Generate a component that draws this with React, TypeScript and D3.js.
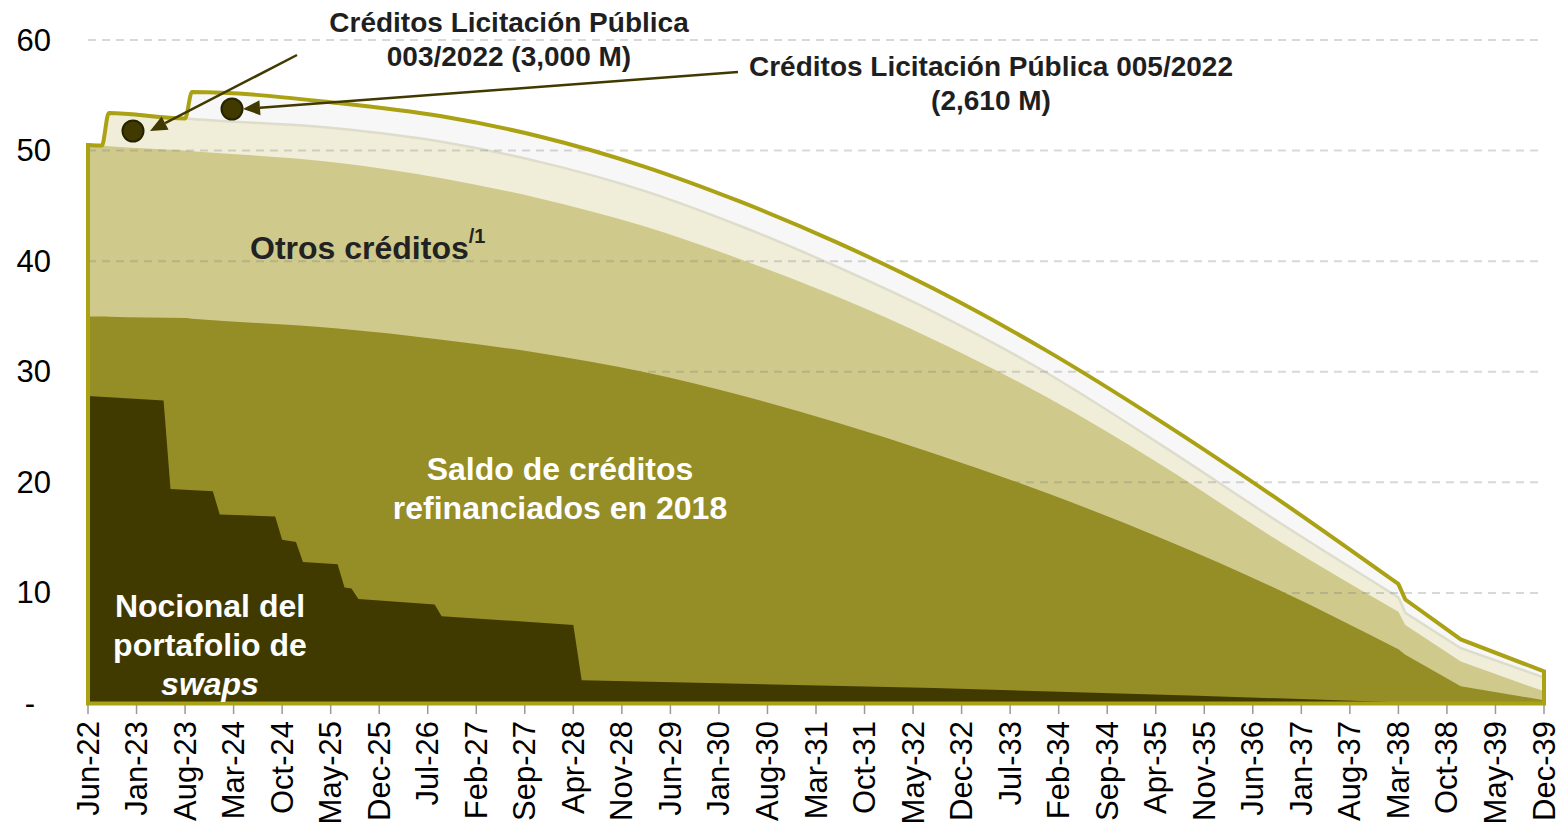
import React from 'react';
import * as d3 from 'd3';

const W = 1557;
const H = 827;
const FONT = 'Liberation Sans, Arial, Helvetica, sans-serif';

// months counted from Jun-22 (0) to Dec-39 (210)
const months = [0, 2, 3, 14, 15, 36, 51, 65, 80, 94, 108, 122, 138, 155, 172, 189, 190, 198, 210];
// miles de millones, each series is its own slice of the stack
const refinanciados = [35.0, 35.0, 34.98, 34.85, 34.8, 33.9, 32.9, 31.7, 30.0, 27.9, 25.4, 22.6, 19.1, 14.9, 10.2, 4.9, 4.4, 1.55, 0.3];
const otros = [15.5, 15.45, 15.42, 15.15, 15.15, 15.0, 14.6, 14.0, 13.2, 12.3, 11.4, 10.3, 8.7, 6.6, 4.4, 3.4, 2.7, 2.25, 0.8];
const lp003 = [0, 0, 3.0, 2.9, 2.9, 3.1, 3.3, 3.3, 3.2, 3.0, 2.7, 2.5, 2.2, 1.8, 1.7, 1.3, 1.1, 1.2, 1.25];
const lp005 = [0, 0, 0, 0, 2.45, 2.3, 2.3, 2.3, 2.2, 2.2, 2.2, 2.1, 2.0, 2.1, 2.0, 1.2, 1.2, 0.8, 0.55];

// notional of the swaps portfolio (overlay, step-like)
const swapMonths = [0, 10.9, 11.9, 18, 19, 27, 28, 30, 31, 36, 37, 38, 39, 50, 51, 70, 71.2, 122, 160, 190, 210];
const swapValues = [27.8, 27.4, 19.4, 19.2, 17.1, 16.9, 14.8, 14.6, 12.8, 12.6, 10.5, 10.4, 9.45, 8.95, 7.9, 7.1, 2.1, 1.4, 0.7, 0.1, 0];

const xTickLabels = [
  'Jun-22', 'Jan-23', 'Aug-23', 'Mar-24', 'Oct-24', 'May-25', 'Dec-25', 'Jul-26', 'Feb-27', 'Sep-27',
  'Apr-28', 'Nov-28', 'Jun-29', 'Jan-30', 'Aug-30', 'Mar-31', 'Oct-31', 'May-32', 'Dec-32', 'Jul-33',
  'Feb-34', 'Sep-34', 'Apr-35', 'Nov-35', 'Jun-36', 'Jan-37', 'Aug-37', 'Mar-38', 'Oct-38', 'May-39', 'Dec-39',
];
const yTicks = [0, 10, 20, 30, 40, 50, 60];

const x = d3.scaleLinear().domain([0, 210]).range([88, 1544]);
const y = d3.scaleLinear().domain([0, 60]).range([703.5, 40]);

const rows = months.map((m, i) => ({ m, r: refinanciados[i], o: otros[i], a: lp003[i], b: lp005[i] }));
const stacked = d3.stack<any>().keys(['r', 'o', 'a', 'b'])(rows);
const levels = stacked.map((layer) => layer.map((d) => d[1]));

// smooth amortisation up to Mar-38, straight segments after the break
const SPLIT = months.indexOf(189);
function topPath(vals: number[]) {
  const pts = months.map((m, i) => [x(m), y(vals[i])] as [number, number]);
  const smooth = d3.line().curve(d3.curveMonotoneX)(pts.slice(0, SPLIT + 1)) as string;
  const straight = pts.slice(SPLIT + 1).map((p) => `L${p[0]},${p[1]}`).join('');
  return smooth + straight;
}
const areaPath = (vals: number[]) => `${topPath(vals)}L${x(210)},${y(0)}L${x(0)},${y(0)}Z`;

const swapArea = d3.area<number>()
  .x((d, i) => x(swapMonths[i]))
  .y0(y(0))
  .y1((d) => y(d))(swapValues) as string;

function Arrow({ x1, y1, x2, y2 }: { x1: number; y1: number; x2: number; y2: number }) {
  const ang = Math.atan2(y2 - y1, x2 - x1);
  const len = 17;
  const half = 7.5;
  const bx = x2 - len * Math.cos(ang);
  const by = y2 - len * Math.sin(ang);
  const px = -Math.sin(ang) * half;
  const py = Math.cos(ang) * half;
  return (
    <g>
      <line x1={x1} y1={y1} x2={bx} y2={by} stroke="#403a00" strokeWidth={2.5} />
      <polygon points={`${x2},${y2} ${bx + px},${by + py} ${bx - px},${by - py}`} fill="#403a00" />
    </g>
  );
}

export default function App() {
  const colors = ['#958d26', '#cfc98b', '#f0eed9', '#f7f7f7'];
  return (
    <svg width={W} height={H} style={{ position: 'absolute', left: 0, top: 0, background: '#fff' }} fontFamily={FONT}>
      {/* back to front */}
      <path d={areaPath(levels[3])} fill={colors[3]} />
      <path d={areaPath(levels[2])} fill={colors[2]} />
      <path d={topPath(levels[2])} fill="none" stroke="#dedcca" strokeWidth={2.5} />
      <path d={areaPath(levels[1])} fill={colors[1]} />

      {/* gridlines */}
      {yTicks.filter((t) => t > 0).map((t) => (
        <line key={t} x1={88} x2={1544} y1={y(t)} y2={y(t)} stroke="#7f7f7f" strokeOpacity={0.3}
          strokeWidth={2} strokeDasharray="8 6" />
      ))}

      <path d={areaPath(levels[0])} fill={colors[0]} />
      <path d={swapArea} fill="#403a00" />

      {/* outline of the total */}
      <path d={areaPath(levels[3])} fill="none" stroke="#aaa214" strokeWidth={4} strokeLinejoin="miter" />

      {/* x axis ticks */}
      {xTickLabels.map((lab, i) => {
        const xx = x(i * 7);
        return (
          <g key={lab}>
            <line x1={xx} x2={xx} y1={705} y2={714} stroke="#999" strokeWidth={1.5} />
            <text transform={`translate(${xx},721) rotate(-90)`} textAnchor="end" dominantBaseline="central"
              fontSize={31} fill="#000">{lab}</text>
          </g>
        );
      })}

      {/* y labels */}
      {yTicks.map((t) => (
        <text key={t} x={t === 0 ? 35 : 51} y={y(t)} textAnchor="end" dominantBaseline="central"
          fontSize={31} fill="#000">{t === 0 ? '-' : t}</text>
      ))}

      {/* inner labels */}
      <text x={250} y={248} dominantBaseline="central" fontSize={32} fontWeight="bold" fill="#222">
        Otros créditos<tspan fontSize={20} dy={-12}>/1</tspan>
      </text>
      <g fontSize={32} fontWeight="bold" fill="#fff" textAnchor="middle">
        <text x={560} y={469} dominantBaseline="central">Saldo de créditos</text>
        <text x={560} y={508} dominantBaseline="central">refinanciados en 2018</text>
        <text x={210} y={606} dominantBaseline="central">Nocional del</text>
        <text x={210} y={645} dominantBaseline="central">portafolio de</text>
        <text x={210} y={684} dominantBaseline="central" fontStyle="italic">swaps</text>
      </g>

      {/* annotations */}
      <g fontSize={28} fontWeight="bold" fill="#1f1f1f" textAnchor="middle">
        <text x={509} y={22} dominantBaseline="central">Créditos Licitación Pública</text>
        <text x={509} y={56} dominantBaseline="central">003/2022 (3,000 M)</text>
        <text x={991} y={66} dominantBaseline="central">Créditos Licitación Pública 005/2022</text>
        <text x={991} y={100} dominantBaseline="central">(2,610 M)</text>
      </g>
      <Arrow x1={297} y1={55} x2={150} y2={131} />
      <Arrow x1={738} y1={72} x2={243} y2={109} />
      <circle cx={133} cy={131} r={10.5} fill="#403a00" stroke="#262200" strokeWidth={2} />
      <circle cx={232} cy={109} r={10.5} fill="#403a00" stroke="#262200" strokeWidth={2} />
    </svg>
  );
}
